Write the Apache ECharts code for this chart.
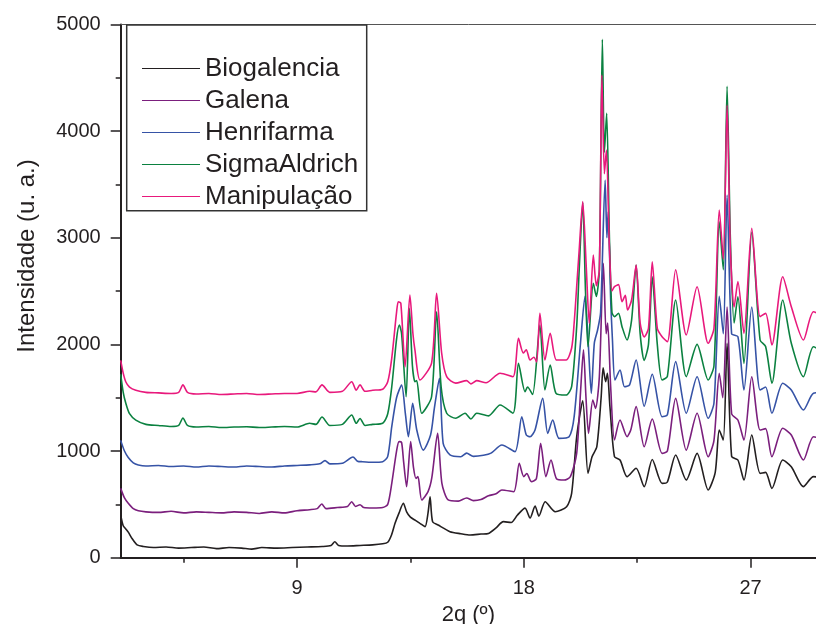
<!DOCTYPE html>
<html>
<head>
<meta charset="utf-8">
<script src="https://cdn.jsdelivr.net/npm/echarts@6/dist/echarts.min.js"></script>
<style>html,body{margin:0;padding:0;background:#fff}#c{width:816px;height:624px}</style>
</head>
<body>
<div id="c"></div>
<script>
const seriesNames = ['Biogalencia','Galena','Henrifarma','SigmaAldrich','Manipulação'];
const xMajorTicks = [9, 18, 27];
const xMinorTicks = [4.5, 13.5, 22.5];
const xTitle = '2q (º)';
const yTitle = 'Intensidade (u. a.)';

const biogalencia = [[2.0,400],[2.1,300],[2.2,270],[2.3,240],[2.45,180],[2.65,120],[2.9,105],[3.3,95],[3.8,100],[4.3,90],[4.8,95],[5.3,100],[5.8,85],[6.3,95],[6.8,90],[7.2,80],[7.6,95],[8.2,90],[8.8,95],[9.4,100],[10.0,105],[10.35,115],[10.5,150],[10.65,115],[11.0,110],[11.5,115],[12.0,120],[12.4,130],[12.6,145],[12.75,213],[12.89,322],[13.05,420],[13.22,510],[13.35,430],[13.5,380],[13.7,350],[13.88,322],[14.08,291],[14.2,420],[14.28,572],[14.38,338],[14.6,306],[15.07,244],[15.5,225],[15.87,213],[16.3,222],[16.6,228],[16.9,280],[17.19,338],[17.5,330],[17.75,400],[18.05,465],[18.25,372],[18.45,485],[18.6,390],[18.85,525],[19.25,431],[19.7,478],[19.9,603],[20.1,1134],[20.34,1470],[20.55,791],[20.71,947],[20.9,1041],[21.07,1500],[21.15,1780],[21.25,1650],[21.32,1728],[21.42,1416],[21.6,947],[21.82,916],[22.1,760],[22.46,838],[22.78,666],[23.1,920],[23.49,697],[23.7,710],[24.03,963],[24.45,728],[24.88,978],[25.32,635],[25.6,800],[25.76,1197],[25.92,1103],[26.07,2010],[26.25,950],[26.5,916],[26.74,728],[27.05,1150],[27.38,791],[27.6,800],[27.85,650],[28.28,916],[28.62,853],[29.1,666],[29.5,760],[30.0,740]];

const galena = [[2.0,650],[2.15,560],[2.3,510],[2.5,460],[2.7,440],[3.0,430],[3.5,425],[4.0,435],[4.5,420],[5.0,430],[5.5,425],[6.0,420],[6.5,430],[7.0,425],[7.5,415],[8.0,430],[8.5,420],[9.0,440],[9.5,450],[9.8,460],[9.98,503],[10.15,460],[10.6,470],[11.0,480],[11.17,525],[11.32,480],[11.5,497],[11.65,470],[12.0,466],[12.4,470],[12.6,500],[12.76,697],[12.95,1000],[13.05,1088],[13.15,1080],[13.23,900],[13.35,666],[13.51,1088],[13.62,850],[13.72,744],[13.8,760],[13.95,541],[14.2,620],[14.35,750],[14.58,1166],[14.75,697],[15.0,541],[15.4,530],[15.73,560],[16.0,535],[16.3,545],[16.6,580],[16.9,600],[17.13,635],[17.6,619],[17.82,885],[18.0,760],[18.12,790],[18.3,713],[18.5,740],[18.67,1072],[18.88,760],[19.08,916],[19.3,740],[19.6,728],[19.85,760],[20.1,978],[20.25,1541],[20.37,1950],[20.47,1500],[20.57,1166],[20.74,1478],[20.85,1400],[21.0,1697],[21.16,2760],[21.27,2100],[21.33,2200],[21.45,1600],[21.6,1103],[21.82,1291],[22.1,1134],[22.25,1200],[22.46,1416],[22.78,1040],[23.1,1300],[23.49,978],[23.7,1000],[24.03,1494],[24.45,1009],[24.88,1354],[25.32,947],[25.55,1100],[25.76,1728],[25.9,1500],[26.07,2350],[26.25,1350],[26.5,1291],[26.74,1103],[27.05,1697],[27.38,1197],[27.6,1210],[27.85,947],[28.28,1213],[28.62,1150],[29.1,916],[29.5,1134],[30.0,1100]];

const henrifarma = [[2.0,1100],[2.15,1000],[2.3,940],[2.5,890],[2.7,870],[3.0,860],[3.5,865],[4.0,855],[4.5,860],[5.0,850],[5.5,860],[6.0,855],[6.5,850],[7.0,860],[7.5,855],[8.0,850],[8.5,860],[9.0,865],[9.5,870],[9.9,880],[10.11,910],[10.3,880],[10.8,885],[11.22,944],[11.4,905],[11.6,900],[12.0,895],[12.4,900],[12.6,950],[12.76,1228],[12.95,1500],[13.15,1619],[13.3,1350],[13.42,1134],[13.59,1447],[13.75,1200],[14.01,1009],[14.3,1150],[14.45,1400],[14.65,1682],[14.8,1072],[15.07,963],[15.5,947],[15.73,980],[16.0,950],[16.4,960],[16.7,980],[17.13,1056],[17.65,994],[17.92,1322],[18.1,1150],[18.25,1134],[18.45,1200],[18.75,1494],[18.95,1166],[19.15,1291],[19.4,1119],[19.8,1134],[20.0,1322],[20.25,2010],[20.43,2450],[20.56,2010],[20.68,1541],[20.8,2010],[20.93,2135],[21.05,2300],[21.23,3540],[21.3,3000],[21.35,3244],[21.45,2416],[21.52,2041],[21.62,1666],[21.82,1760],[22.0,1603],[22.2,1620],[22.46,1853],[22.78,1420],[23.1,1720],[23.49,1322],[23.7,1340],[24.03,1838],[24.45,1354],[24.88,1697],[25.32,1307],[25.55,1450],[25.76,2450],[25.92,2100],[26.07,3400],[26.25,2100],[26.5,2072],[26.74,1572],[27.05,2350],[27.38,1572],[27.6,1600],[27.85,1354],[28.28,1635],[28.62,1572],[29.1,1385],[29.5,1541],[30.0,1550]];

const sigmaAldrich = [[2.0,1720],[2.1,1550],[2.2,1450],[2.35,1350],[2.6,1290],[3.0,1250],[3.5,1240],[4.0,1230],[4.3,1240],[4.47,1310],[4.65,1240],[5.0,1225],[5.5,1230],[6.0,1220],[6.5,1225],[7.0,1228],[7.5,1220],[8.0,1225],[8.5,1230],[9.0,1225],[9.5,1260],[9.75,1250],[9.99,1319],[10.3,1240],[10.8,1250],[11.17,1338],[11.35,1260],[11.5,1305],[11.7,1240],[12.0,1250],[12.4,1260],[12.6,1350],[12.76,1603],[12.95,2050],[13.06,2181],[13.15,2100],[13.33,1509],[13.46,2338],[13.58,1800],[13.68,1650],[13.75,1660],[13.95,1354],[14.34,1509],[14.54,2306],[14.72,1600],[14.94,1354],[15.3,1307],[15.67,1354],[15.9,1300],[16.13,1354],[16.6,1330],[17.06,1431],[17.57,1354],[17.79,1822],[18.05,1556],[18.15,1600],[18.35,1530],[18.64,2181],[18.84,1572],[19.05,1806],[19.28,1541],[19.68,1525],[19.9,1603],[20.1,2166],[20.2,2700],[20.34,3330],[20.45,2500],[20.55,1978],[20.76,2572],[20.88,2450],[21.0,2700],[21.12,4860],[21.2,3800],[21.29,4166],[21.4,3000],[21.5,2300],[21.6,2260],[21.76,2291],[21.9,2166],[22.1,2041],[22.28,2228],[22.46,2744],[22.62,2100],[22.78,1850],[22.95,2000],[23.1,2634],[23.3,2000],[23.49,1666],[23.7,1700],[24.03,2416],[24.45,1697],[24.88,2000],[25.32,1666],[25.55,1800],[25.76,3150],[25.92,2700],[26.07,4420],[26.2,3000],[26.35,2200],[26.5,2447],[26.74,1822],[27.05,3050],[27.38,2041],[27.6,1980],[27.85,1635],[28.28,2416],[28.62,2010],[29.1,1697],[29.5,1978],[30.0,1900]];

const manipulacao = [[2.0,1850],[2.1,1730],[2.2,1650],[2.35,1600],[2.6,1570],[3.0,1550],[3.5,1545],[4.0,1540],[4.3,1550],[4.47,1620],[4.65,1550],[5.0,1535],[5.5,1540],[6.0,1530],[6.5,1535],[7.0,1540],[7.5,1530],[8.0,1535],[8.5,1540],[9.0,1540],[9.5,1560],[9.75,1555],[9.99,1620],[10.3,1550],[10.8,1560],[11.17,1650],[11.35,1570],[11.5,1620],[11.7,1560],[12.0,1570],[12.4,1580],[12.6,1650],[12.76,1872],[12.95,2300],[13.02,2400],[13.12,2385],[13.29,1790],[13.48,2463],[13.6,2100],[13.68,1947],[13.88,1666],[14.34,1825],[14.54,2478],[14.74,1919],[14.94,1697],[15.3,1637],[15.73,1660],[15.9,1630],[16.13,1660],[16.5,1640],[17.06,1730],[17.57,1697],[17.79,2056],[17.98,1919],[18.1,1950],[18.25,1853],[18.4,1880],[18.51,1835],[18.64,2291],[18.84,1853],[19.05,2103],[19.3,1853],[19.68,1853],[19.9,1966],[20.0,2200],[20.1,2540],[20.2,2885],[20.34,3340],[20.48,2728],[20.6,2197],[20.76,2838],[20.88,2550],[21.0,2700],[21.1,4525],[21.2,3600],[21.28,3822],[21.4,2900],[21.5,2500],[21.6,2541],[21.76,2560],[21.9,2400],[22.03,2460],[22.12,2322],[22.28,2416],[22.46,2744],[22.62,2200],[22.78,2070],[22.95,2150],[23.1,2775],[23.3,2150],[23.49,2072],[23.7,2025],[24.03,2700],[24.45,2088],[24.88,2541],[25.32,2010],[25.55,2150],[25.76,3260],[25.92,2800],[26.07,4243],[26.2,2900],[26.35,2350],[26.5,2588],[26.74,2103],[27.05,3088],[27.38,2260],[27.6,2291],[27.85,1994],[28.28,2634],[28.62,2353],[29.1,2041],[29.5,2306],[30.0,2250]];

const allData = [biogalencia, galena, henrifarma, sigmaAldrich, manipulacao];
const colors = ['#231f20', '#7b1f7d', '#3653a6', '#0b8140', '#e8197c'];
const FONT = '"Liberation Sans", Arial, sans-serif';
const X_MIN = 2, X_MAX = 29.6;

const chart = echarts.init(document.getElementById('c'), null, {renderer: 'canvas'});
chart.setOption({
  animation: false,
  backgroundColor: '#fff',
  grid: {left: 120.7, top: 24.4, width: 695.3, height: 533.3, show: false, containLabel: false, outerBoundsMode: 'none'},
  graphic: [{
    type: 'rect', z: 3,
    shape: {x: 126.7, y: 25, width: 240, height: 185.7},
    style: {fill: '#fff', stroke: '#333', lineWidth: 1.5}
  }, {
    type: 'text', z: 5, x: 27, y: 256, rotation: Math.PI / 2,
    style: {text: yTitle, fontFamily: FONT, fontSize: 24, fill: '#231f20', align: 'center', verticalAlign: 'middle'}
  }],
  legend: {
    z: 10, orient: 'vertical', left: 142, top: 55.5, itemGap: 6, padding: 0,
    icon: 'rect', itemWidth: 58, itemHeight: 1.2, itemTextGap: 15,
    textStyle: {fontFamily: FONT, fontSize: 26, color: '#231f20'},
    data: seriesNames
  },
  xAxis: [{
    type: 'value', min: X_MIN, max: X_MAX,
    name: xTitle, nameLocation: 'middle', nameGap: 43,
    nameTextStyle: {fontFamily: FONT, fontSize: 22, color: '#231f20'},
    axisLine: {show: true, onZero: false, lineStyle: {color: '#231f20', width: 2}},
    axisTick: {show: true, inside: false, length: 10, lineStyle: {color: '#231f20', width: 1.5}, customValues: xMajorTicks},
    axisLabel: {fontFamily: FONT, fontSize: 20, color: '#231f20', margin: 21, customValues: xMajorTicks},
    splitLine: {show: false}
  }, {
    type: 'value', min: X_MIN, max: X_MAX, position: 'bottom',
    axisLine: {show: false},
    axisTick: {show: true, inside: false, length: 5, lineStyle: {color: '#231f20', width: 1.5}, customValues: xMinorTicks},
    axisLabel: {show: false},
    splitLine: {show: false}
  }, {
    type: 'value', min: X_MIN, max: X_MAX, position: 'top',
    axisLine: {show: true, onZero: false, lineStyle: {color: '#555', width: 1}},
    axisTick: {show: false}, axisLabel: {show: false}, splitLine: {show: false}
  }],
  yAxis: {
    type: 'value', min: 0, max: 5000, interval: 1000,
    axisLine: {show: true, lineStyle: {color: '#231f20', width: 2}},
    axisTick: {show: true, inside: false, length: 10, lineStyle: {color: '#231f20', width: 1.5}},
    minorTick: {show: true, splitNumber: 2, length: 5, lineStyle: {color: '#231f20', width: 1.5}},
    axisLabel: {fontFamily: FONT, fontSize: 20, color: '#231f20', margin: 20, formatter: v => String(v)},
    splitLine: {show: false}
  },
  series: allData.map((d, i) => ({
    name: seriesNames[i], type: 'line', data: d, xAxisIndex: 0,
    showSymbol: false, symbol: 'none', smooth: 0.25,
    lineStyle: {color: colors[i], width: 1.6},
    itemStyle: {color: colors[i]},
    z: 2 + i * 0.01
  }))
});
</script>
</body>
</html>
